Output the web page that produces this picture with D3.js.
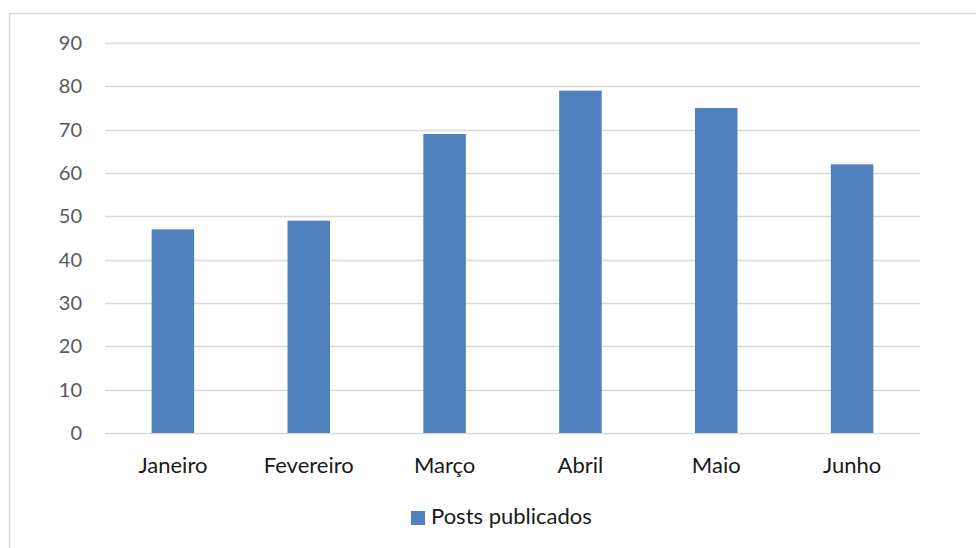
<!DOCTYPE html>
<html>
<head>
<meta charset="utf-8">
<script src="https://cdn.jsdelivr.net/npm/d3@7"></script>
<style>
  body { margin: 0; background: #fff; }
  text { font-family: Lato, "Open Sans", sans-serif; }
</style>
</head>
<body>
<div id="wrap"></div>
<script>
// data
var months = ["Janeiro", "Fevereiro", "Março", "Abril", "Maio", "Junho"];
var posts = [47, 49, 69, 79, 75, 62];
var yTicks = [0, 10, 20, 30, 40, 50, 60, 70, 80, 90];
var seriesName = "Posts publicados";

var width = 976, height = 548;
var margin = { top: 43, right: 56, bottom: 115, left: 105 };
var innerW = width - margin.left - margin.right,
    innerH = height - margin.top - margin.bottom;

var svg = d3.select('#wrap').append('svg')
  .attr('width', width)
  .attr('height', height);

// chart frame
svg.append('rect')
  .attr('x', 9.5).attr('y', 13.5)
  .attr('width', 980).attr('height', 560)
  .style('fill', 'none')
  .style('stroke', '#d9d9d9')
  .style('stroke-width', 1.5);

var g = svg.append('g')
  .attr('transform', 'translate(' + margin.left + ',' + margin.top + ')');

var x = d3.scaleBand().domain(months).range([0, innerW]).paddingInner(0.687).paddingOuter(0.3435);
var y = d3.scaleLinear().domain([0, 90]).range([innerH, 0]);

// gridlines
g.selectAll('.grid')
  .data(yTicks)
  .enter().append('line')
    .attr('class', 'grid')
    .attr('x1', 0).attr('x2', innerW)
    .attr('y1', function(d) { return Math.round(y(d)) + 0.5; })
    .attr('y2', function(d) { return Math.round(y(d)) + 0.5; })
    .style('stroke', '#d9d9d9')
    .style('stroke-width', 1.5);

// y axis labels
var yAxis = g.append('g')
  .call(d3.axisLeft(y).tickValues(yTicks).tickSize(0).tickPadding(23));
yAxis.select('.domain').remove();
yAxis.selectAll('text')
  .style('font-family', 'Lato, sans-serif')
  .style('font-size', '20px')
  .style('fill', '#595959');

// bars
g.selectAll('.bar')
  .data(posts)
  .enter().append('rect')
    .attr('class', 'bar')
    .attr('x', function(d, i) { return x(months[i]); })
    .attr('width', x.bandwidth())
    .attr('y', function(d) { return y(d); })
    .attr('height', function(d) { return innerH - y(d); })
    .style('fill', '#4f81bd');

// x axis labels
var xAxis = g.append('g')
  .attr('transform', 'translate(0,' + innerH + ')')
  .call(d3.axisBottom(x).tickSize(0).tickPadding(24));
xAxis.select('.domain').remove();
xAxis.selectAll('text')
  .style('font-family', 'Lato, sans-serif')
  .style('font-size', '22px')
  .style('fill', '#1a1a1a');

// legend
var legend = svg.append('g').attr('transform', 'translate(411,511)');
legend.append('rect')
  .attr('width', 14).attr('height', 14)
  .style('fill', '#4f81bd');
legend.append('text')
  .attr('x', 20).attr('y', 13)
  .style('font-size', '22px')
  .style('fill', '#1a1a1a')
  .text(seriesName);
</script>
</body>
</html>
